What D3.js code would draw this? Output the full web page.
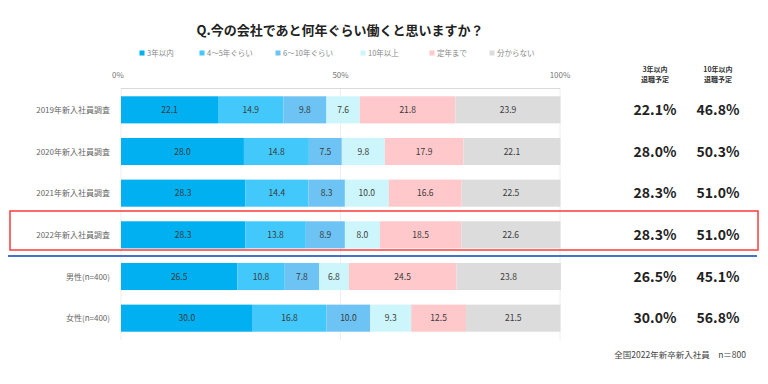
<!DOCTYPE html>
<html>
<head>
<meta charset="utf-8">
<script src="https://cdn.jsdelivr.net/npm/d3@7"></script>
<style>
  body { margin: 0; background: #fff; }
  text { font-family: "Noto Sans CJK JP", "Noto Sans", sans-serif; }
</style>
</head>
<body>
<div id="chart"></div>
<script>
// categories / series
const rows = ["2019年新入社員調査", "2020年新入社員調査", "2021年新入社員調査", "2022年新入社員調査", "男性(n=400)", "女性(n=400)"];
const keys = ["3年以内", "4～5年ぐらい", "6～10年ぐらい", "10年以上", "定年まで", "分からない"];
const colors = ["#00b0f0", "#42c8fa", "#6dc3f3", "#ccf6fc", "#ffc8cb", "#dcdcdc"];
const values = [
  [22.1, 14.9, 9.8, 7.6, 21.8, 23.9],
  [28.0, 14.8, 7.5, 9.8, 17.9, 22.1],
  [28.3, 14.4, 8.3, 10.0, 16.6, 22.5],
  [28.3, 13.8, 8.9, 8.0, 18.5, 22.6],
  [26.5, 10.8, 7.8, 6.8, 24.5, 23.8],
  [30.0, 16.8, 10.0, 9.3, 12.5, 21.5]
];
const within3 = ["22.1%", "28.0%", "28.3%", "28.3%", "26.5%", "30.0%"];
const within10 = ["46.8%", "50.3%", "51.0%", "51.0%", "45.1%", "56.8%"];
const ticks = [0, 50, 100];

const W = 768, H = 384;
const svg = d3.select("#chart").append("svg")
    .attr("width", W).attr("height", H);

const x = d3.scaleLinear().domain([0, 100]).range([121, 560]);
const y = d3.scaleBand().domain(rows).range([89, 339])
    .paddingInner(0.35).paddingOuter(0.175);

// title
svg.append("text")
    .attr("x", 340).attr("y", 35)
    .attr("text-anchor", "middle")
    .attr("font-size", 13).attr("font-weight", "bold").attr("fill", "#222")
    .text("Q.今の会社であと何年ぐらい働くと思いますか？");

// legend
const legX = [142, 202, 278, 363, 432, 492];
const leg = svg.append("g").selectAll("g").data(keys).enter().append("g")
    .attr("transform", (d, i) => "translate(" + legX[i] + ",53)");
leg.append("rect").attr("x", -2.5).attr("y", -2.5).attr("width", 5).attr("height", 5)
    .attr("fill", (d, i) => colors[i]);
leg.append("text").attr("x", 5).attr("y", 3)
    .attr("font-size", 7.5).attr("fill", "#888").text(d => d);

// grid + axis line
svg.append("g").selectAll("line").data(ticks).enter().append("line")
    .attr("x1", d => x(d)).attr("x2", d => x(d))
    .attr("y1", 88).attr("y2", 340)
    .attr("stroke", "#eeeeee").attr("stroke-width", 1);
svg.append("line").attr("x1", x(0)).attr("x2", x(100)).attr("y1", 88.5).attr("y2", 88.5)
    .attr("stroke", "#d9d9d9");
svg.append("g").selectAll("text").data(ticks).enter().append("text")
    .attr("x", d => x(d) - (d === 0 ? 3 : 0)).attr("y", 78)
    .attr("text-anchor", "middle")
    .attr("font-size", 8).attr("fill", "#777")
    .text(d => d + "%");

// bars
rows.forEach((r, ri) => {
  let acc = 0;
  const segs = values[ri].map((v, k) => {
    const s = { v: v, k: k, x0: acc, x1: acc + v };
    acc += v;
    return s;
  });
  const g = svg.append("g");
  g.selectAll("rect").data(segs).enter().append("rect")
      .attr("x", d => x(d.x0))
      .attr("width", d => x(d.x1) - x(d.x0))
      .attr("y", y(r))
      .attr("height", y.bandwidth())
      .attr("fill", d => colors[d.k]);
  g.selectAll("text").data(segs).enter().append("text")
      .attr("x", d => (x(d.x0) + x(d.x1)) / 2)
      .attr("y", y(r) + y.bandwidth() / 2 + 3)
      .attr("text-anchor", "middle")
      .attr("font-size", 8.5).attr("fill", "#3a3a3a")
      .text(d => d.v.toFixed(1));
});

// row labels
svg.append("g").selectAll("text").data(rows).enter().append("text")
    .attr("x", 110).attr("y", d => y(d) + y.bandwidth() / 2 + 3)
    .attr("text-anchor", "end")
    .attr("font-size", 8).attr("fill", "#666")
    .text(d => d);

// right columns
const hdr = [["3年以内", "退職予定"], ["10年以内", "退職予定"]];
[655, 718].forEach((cx, i) => {
  hdr[i].forEach((t, j) => {
    svg.append("text").attr("x", cx).attr("y", 72 + j * 10)
        .attr("text-anchor", "middle")
        .attr("font-size", 7).attr("font-weight", "bold").attr("fill", "#333")
        .text(t);
  });
  svg.append("g").selectAll("text").data(rows).enter().append("text")
      .attr("x", cx).attr("y", d => y(d) + y.bandwidth() / 2 + 5)
      .attr("text-anchor", "middle")
      .attr("font-size", 14).attr("font-weight", "bold").attr("fill", "#222")
      .text((d, ri) => i === 0 ? within3[ri] : within10[ri]);
});

// highlight box for 2022 and separator
svg.append("rect").attr("x", 10).attr("y", 211).attr("width", 748).attr("height", 39)
    .attr("fill", "none").attr("stroke", "#ff3b3b").attr("stroke-width", 1.5);
svg.append("line").attr("x1", 8).attr("x2", 757).attr("y1", 256).attr("y2", 256)
    .attr("stroke", "#4472c4").attr("stroke-width", 2);

// footnote
svg.append("text").attr("x", 746).attr("y", 358)
    .attr("text-anchor", "end")
    .attr("font-size", 8.5).attr("fill", "#444")
    .text("全国2022年新卒新入社員　n＝800");
</script>
</body>
</html>
